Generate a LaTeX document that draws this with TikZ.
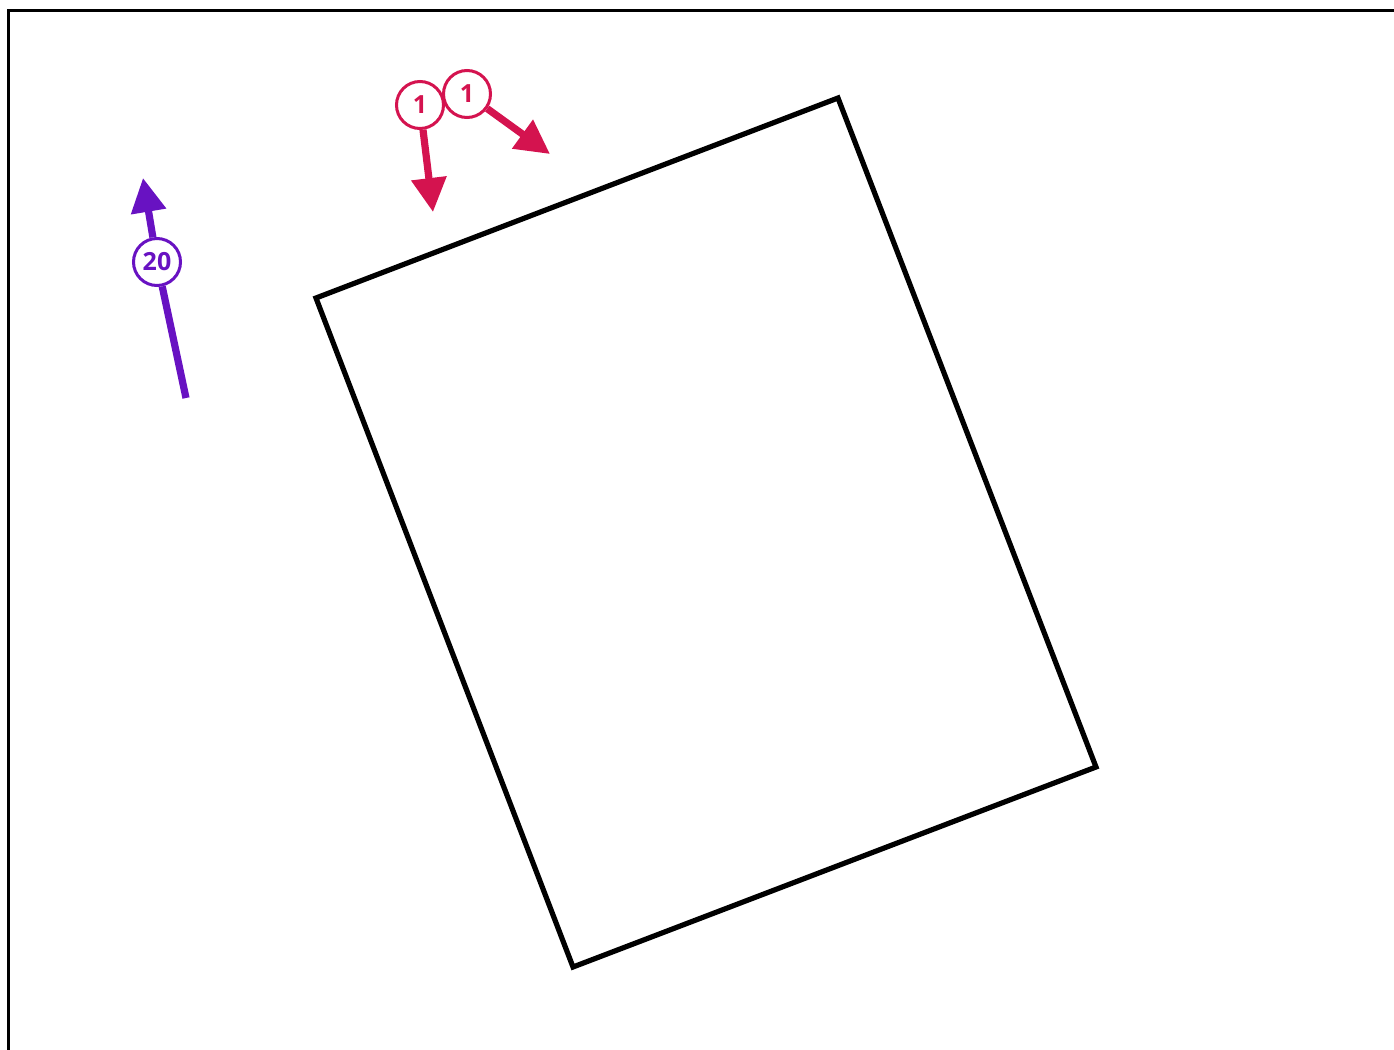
\documentclass[tikz,border=0pt]{standalone}
\usepackage{fontspec}
\setsansfont{Open Sans}
\usetikzlibrary{arrows.meta}
\definecolor{crimson}{RGB}{212,19,79}
\definecolor{violetarr}{RGB}{104,18,194}

\begin{document}
\begin{tikzpicture}[
  x=0.5pt, y=-0.5pt,
  font=\sffamily\bfseries\fontsize{12.5}{14}\selectfont,
  num/.style={circle, draw, fill=white, line width=1.5pt, minimum size=23.5pt, inner sep=0pt},
  arr/.style={-{Triangle[length=17pt,width=17pt]}, line width=3.6pt},
  plot/.style={line width=2.6pt, line join=miter}
]
\useasboundingbox (0,0) rectangle (1394,1050);
\draw[line width=1.5pt] (8,1050) -- (8,10) -- (1394,10);
% plot outline
\draw[plot] (316,298) -- (838,98) -- (1096,767) -- (573,967) -- cycle;
% red markers
\node[num, draw=crimson, text=crimson] (c1a) at (420,105) {1};
\node[num, draw=crimson, text=crimson] (c1b) at (467,94) {1};
\coordinate (t1a) at (433,212);
\coordinate (t1b) at (550,154);
\draw[arr, crimson] (c1a) -- (t1a);
\draw[arr, crimson] (c1b) -- (t1b);
% purple marker
\coordinate (s20) at (186,398);
\coordinate (t20) at (143,178);
\node[num, draw=violetarr, text=violetarr] (c20) at (157,262) {20};
\draw[line width=3.6pt, violetarr] (s20) -- (c20);
\draw[arr, violetarr] (c20) -- (t20);
\end{tikzpicture}
\end{document}
